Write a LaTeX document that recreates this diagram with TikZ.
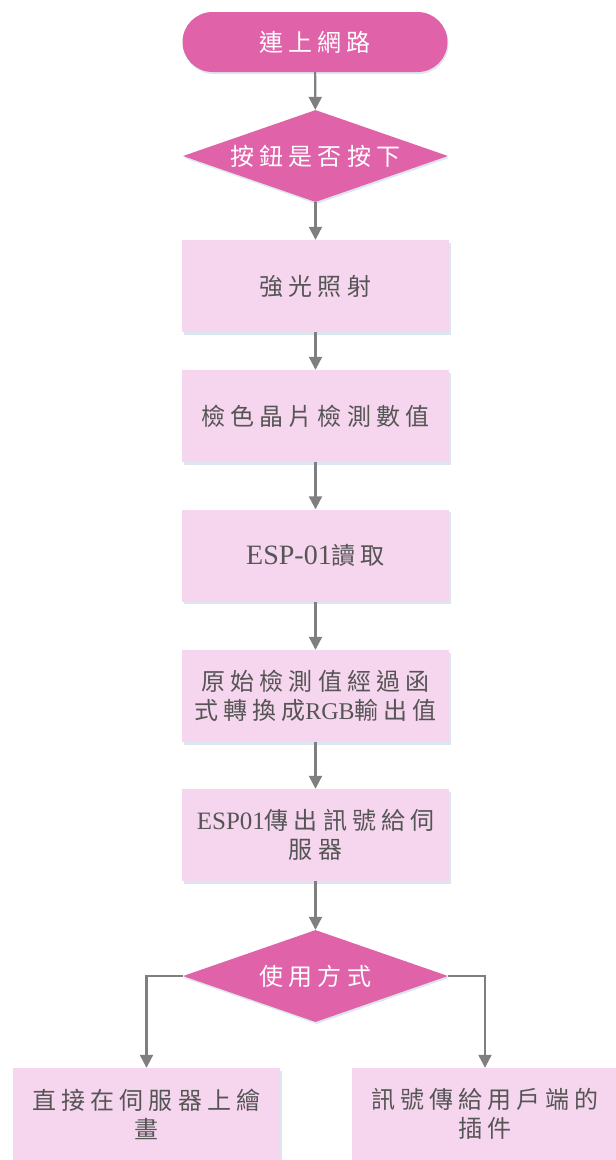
\documentclass[tikz,border=0pt]{standalone}
\usepackage{fontspec}
\setmainfont{Liberation Serif}
\newfontfamily\cjk[LetterSpace=21]{Noto Sans CJK TC}
\newcommand\zh[1]{{\cjk #1}}
\usetikzlibrary{shapes.geometric,arrows.meta,shadows}
\definecolor{hotpink}{HTML}{E063A9}
\definecolor{lightpink}{HTML}{F6D6EE}
\definecolor{txtgray}{HTML}{555555}
\definecolor{arrgray}{HTML}{7F7F7F}
\definecolor{shadowc}{HTML}{DCE6EE}
\tikzset{
  x=1pt, y=1pt,
  every node/.style={font=\fontsize{24}{29}\selectfont, align=center, inner sep=2pt},
  termbox/.style={rectangle, rounded corners=30pt, fill=hotpink, text=white,
    minimum width=265pt, minimum height=60pt,
    general shadow={fill=shadowc, shadow xshift=1pt, shadow yshift=-2pt}},
  decbox/.style={diamond, fill=hotpink, text=white, aspect=2.9,
    minimum width=265pt, minimum height=92pt, inner sep=0pt,
    general shadow={fill=shadowc, shadow xshift=1pt, shadow yshift=-2pt}},
  procbox/.style={rectangle, fill=lightpink, text=txtgray,
    minimum width=267pt, minimum height=92pt,
    general shadow={fill=shadowc, shadow xshift=1.5pt, shadow yshift=-2.5pt}},
  flow/.style={draw=arrgray, line width=2.2pt,
    -{Triangle[width=13pt,length=13pt,fill=arrgray]}}
}
\begin{document}
\begin{tikzpicture}
\useasboundingbox (0,0) rectangle (616,-1160);
\node[termbox] (start) at (315,-42) {\zh{連上網路}};
\node[decbox] (d1) at (315.5,-156) {\zh{按鈕是否按下}};
\node[procbox] (b1) at (315.5,-286) {\zh{強光照射}};
\node[procbox] (b2) at (315.5,-416) {\zh{檢色晶片檢測數值}};
\node[procbox] (b3) at (315.5,-555.5) {{\fontsize{28}{29}\selectfont ESP-01}\zh{讀取}};
\node[procbox] (b4) at (315.5,-696) {\zh{原始檢測值經過函}\\\zh{式轉換成}RGB\zh{輸出值}};
\node[procbox] (b5) at (315.5,-835) {{\fontsize{25}{29}\selectfont ESP01}\zh{傳出訊號給伺}\\\zh{服器}};
\node[decbox] (d2) at (315.5,-976) {\zh{使用方式}};
\node[procbox] (L) at (146.5,-1114) {\zh{直接在伺服器上繪}\\\zh{畫}};
\node[procbox] (R) at (485,-1114) {\zh{訊號傳給用戶端的}\\\zh{插件}};
\draw[flow] (start) -- (d1);
\draw[flow] (d1) -- (b1);
\draw[flow] (b1) -- (b2);
\draw[flow] (b2) -- (b3);
\draw[flow] (b3) -- (b4);
\draw[flow] (b4) -- (b5);
\draw[flow] (b5) -- (d2);
\draw[flow] (d2.west) -| (L.north);
\draw[flow] (d2.east) -| (R.north);
\end{tikzpicture}
\end{document}
